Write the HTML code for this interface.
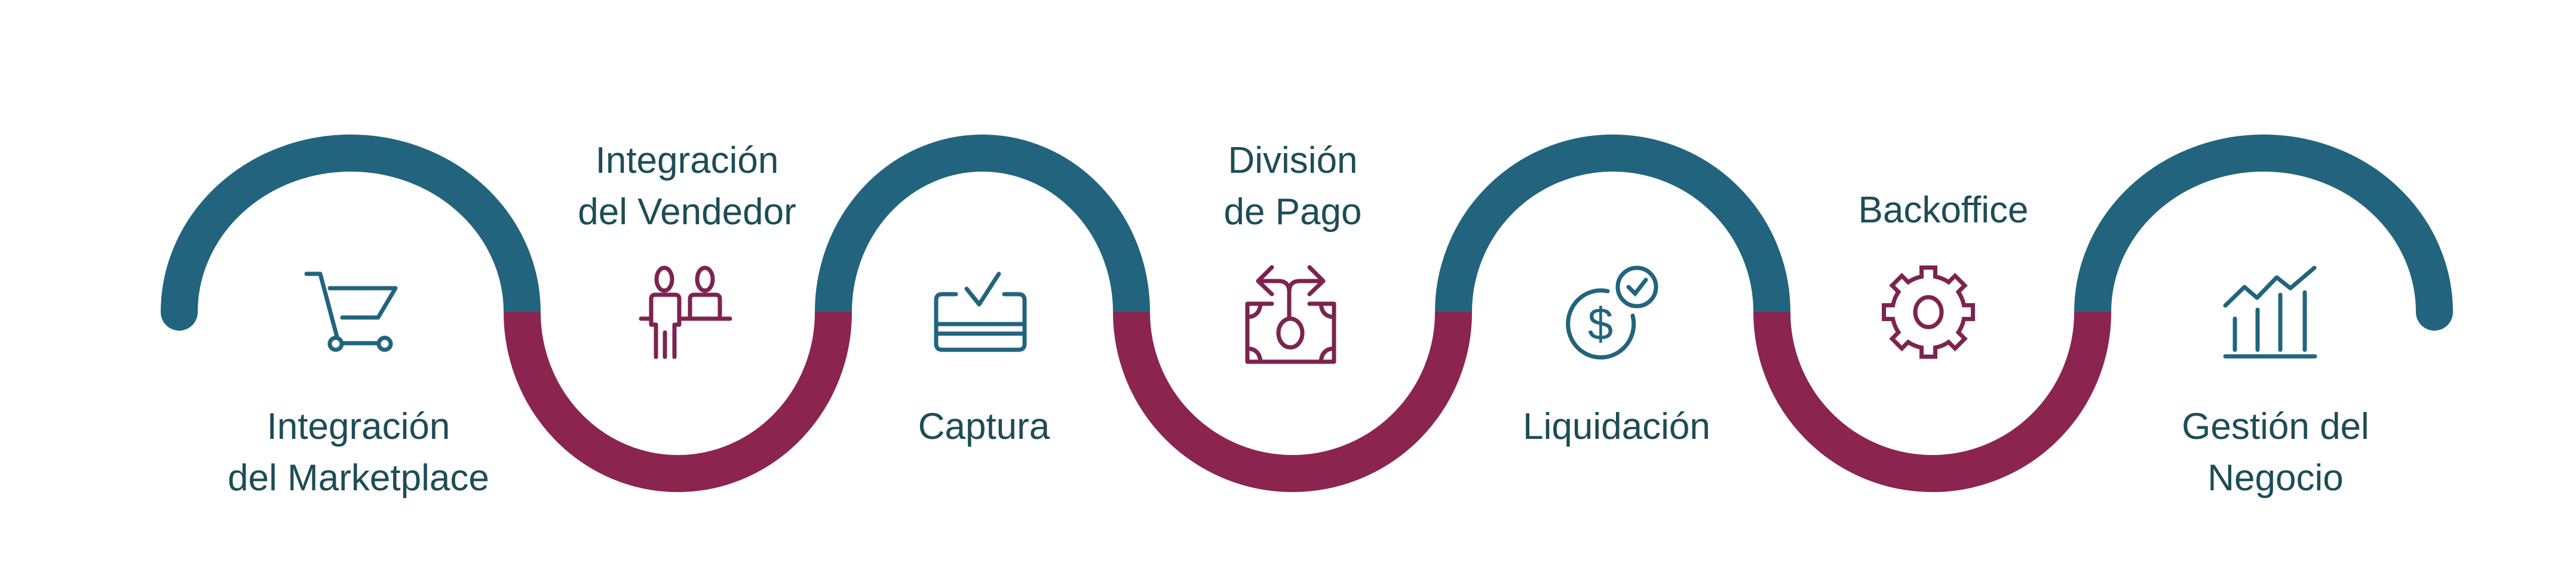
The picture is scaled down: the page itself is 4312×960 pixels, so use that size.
<!DOCTYPE html>
<html><head><meta charset="utf-8"><style>
html,body{margin:0;padding:0;background:#fff;}
svg{display:block;}
text{font-family:"Liberation Sans",sans-serif;font-size:62px;fill:#1d4c56;text-anchor:middle;}
</style></head><body>
<svg width="4312" height="960" viewBox="0 0 4312 960" xmlns="http://www.w3.org/2000/svg">
<g fill="none" stroke-width="62" stroke-linecap="butt">
<path d="M300,522 A287,266 0 0 1 874,522" stroke="#22647e"/>
<path d="M874,522 A260.5,270 0 0 0 1395,522" stroke="#8b2550"/>
<path d="M1395,522 A249.5,266 0 0 1 1894,522" stroke="#22647e"/>
<path d="M1894,522 A269.5,270 0 0 0 2433,522" stroke="#8b2550"/>
<path d="M2433,522 A266.5,266 0 0 1 2966,522" stroke="#22647e"/>
<path d="M2966,522 A268.5,270 0 0 0 3503,522" stroke="#8b2550"/>
<path d="M3503,522 A286,266 0 0 1 4075,522" stroke="#22647e"/>
</g>
<circle cx="300" cy="522" r="31" fill="#22647e"/>
<circle cx="4075" cy="522" r="31" fill="#22647e"/>

<!-- cart -->
<g fill="none" stroke="#22647e" stroke-width="7" stroke-linecap="round" stroke-linejoin="round">
<path d="M513,458 L536,458 L565,567"/>
<path d="M552,482 L662,482 L633,531 L573,531"/>
<path d="M562,574 L644,574"/>
<circle cx="562" cy="575" r="10" fill="#fff"/>
<circle cx="644" cy="575" r="10" fill="#fff"/>
</g>

<!-- people -->
<g fill="none" stroke="#7d2350" stroke-width="7" stroke-linecap="round" stroke-linejoin="round">
<ellipse cx="1112" cy="467" rx="13" ry="19"/>
<ellipse cx="1180" cy="467" rx="13" ry="19"/>
<path d="M1098,597 L1098,543 L1090,543 L1090,500 Q1090,493 1097,493 L1130,493 Q1137,493 1137,500 L1137,543 L1129,543 L1129,597"/>
<path d="M1113,556 L1113,597"/>
<path d="M1155,533 L1155,500 Q1155,493 1162,493 L1198,493 Q1205,493 1205,500 L1205,533"/>
<path d="M1073,533 L1090,533 M1137,533 L1222,533"/>
</g>

<!-- card -->
<g fill="none" stroke="#22647e" stroke-width="7" stroke-linecap="round" stroke-linejoin="round">
<path d="M1600,492 L1577,492 Q1567,492 1567,502 L1567,575 Q1567,585 1577,585 L1705,585 Q1715,585 1715,575 L1715,502 Q1715,492 1705,492 L1681,492"/>
<path d="M1618,483 L1639,509 L1672,458"/>
<path d="M1567,542 L1715,542 M1567,558 L1715,558"/>
</g>

<!-- money split -->
<g fill="none" stroke="#7d2350" stroke-width="7" stroke-linecap="round" stroke-linejoin="round">
<path d="M2129,447 L2106,470 L2129,492 M2192,447 L2215,470 L2192,492"/>
<path d="M2106,470 L2140,470 Q2158,470 2158,488 L2158,533 M2215,470 L2176,470 Q2158,470 2158,488"/>
<ellipse cx="2160" cy="557" rx="20" ry="24"/>
<path d="M2129,508 L2088,508 L2088,605 L2233,605 L2233,508 L2192,508"/>
<path d="M2088,530 Q2108,530 2110,508 M2233,530 Q2213,530 2211,508 M2088,583 Q2108,583 2110,605 M2233,583 Q2213,583 2211,605"/>
</g>

<!-- dollar -->
<g fill="none" stroke="#22647e" stroke-width="7" stroke-linecap="round">
<path d="M2691,487 A55,56 0 1 0 2733,528"/>
<circle cx="2740" cy="480" r="32"/>
<path d="M2726,480 L2737,491 L2755,468"/>
</g>
<text x="2679" y="568" style="font-size:76px;fill:#22647e">$</text>

<!-- gear -->
<g transform="translate(3228,522)">
<g fill="#7d2350">
<circle r="64"/>
<rect x="-15" y="-78" width="30" height="30" transform="rotate(0)"/>
<rect x="-15" y="-78" width="30" height="30" transform="rotate(45)"/>
<rect x="-15" y="-78" width="30" height="30" transform="rotate(90)"/>
<rect x="-15" y="-78" width="30" height="30" transform="rotate(135)"/>
<rect x="-15" y="-78" width="30" height="30" transform="rotate(180)"/>
<rect x="-15" y="-78" width="30" height="30" transform="rotate(225)"/>
<rect x="-15" y="-78" width="30" height="30" transform="rotate(270)"/>
<rect x="-15" y="-78" width="30" height="30" transform="rotate(315)"/>
</g>
<g fill="#fff">
<circle r="57"/>
<rect x="-8" y="-71" width="16" height="30" transform="rotate(0)"/>
<rect x="-8" y="-71" width="16" height="30" transform="rotate(45)"/>
<rect x="-8" y="-71" width="16" height="30" transform="rotate(90)"/>
<rect x="-8" y="-71" width="16" height="30" transform="rotate(135)"/>
<rect x="-8" y="-71" width="16" height="30" transform="rotate(180)"/>
<rect x="-8" y="-71" width="16" height="30" transform="rotate(225)"/>
<rect x="-8" y="-71" width="16" height="30" transform="rotate(270)"/>
<rect x="-8" y="-71" width="16" height="30" transform="rotate(315)"/>
</g>
<ellipse rx="22" ry="25" fill="none" stroke="#7d2350" stroke-width="7"/>
</g>

<!-- chart -->
<g fill="none" stroke="#22647e" stroke-width="7" stroke-linecap="round" stroke-linejoin="round">
<path d="M3725,511 L3757,480 L3778,498 L3811,464 L3834,482 L3874,448"/>
<path d="M3741,533 L3741,585 M3779,518 L3779,585 M3817,493 L3817,585 M3858,489 L3858,585"/>
<path d="M3725,596 L3875,596"/>
</g>

<!-- labels -->
<text x="600" y="734">Integración</text>
<text x="600" y="820">del Marketplace</text>
<text x="1150" y="289">Integración</text>
<text x="1150" y="375">del Vendedor</text>
<text x="1647" y="734">Captura</text>
<text x="2164" y="289">División</text>
<text x="2164" y="375">de Pago</text>
<text x="2706" y="734">Liquidación</text>
<text x="3253" y="372">Backoffice</text>
<text x="3809" y="734">Gestión del</text>
<text x="3809" y="820">Negocio</text>
</svg>
</body></html>
